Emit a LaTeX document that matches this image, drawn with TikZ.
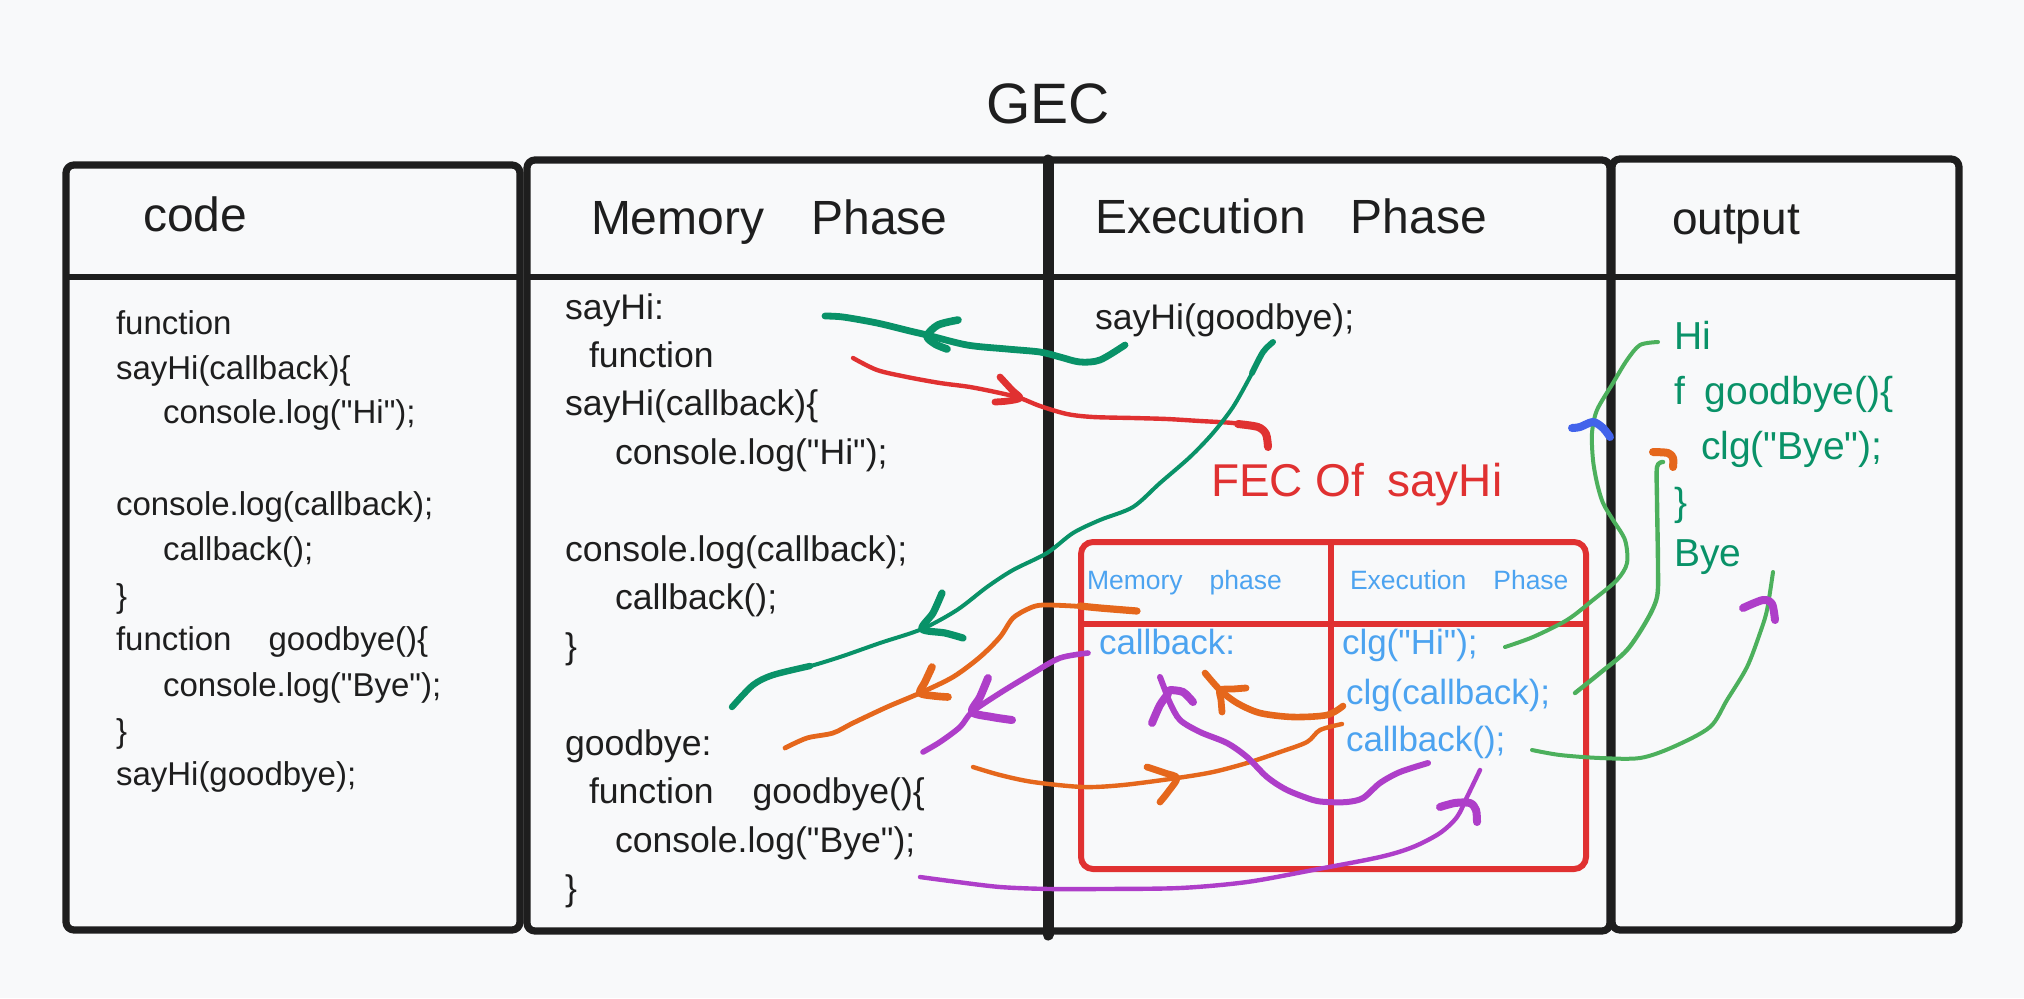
\documentclass[tikz,border=0pt]{standalone}
\usepackage{fontspec}
\setmainfont{Liberation Sans}[Ligatures=TeXOff]
\definecolor{ink}{HTML}{1E1E1E}
\definecolor{bgc}{HTML}{F8F9FA}
\definecolor{tealc}{HTML}{099268}
\definecolor{greenc}{HTML}{4CB05C}
\definecolor{redc}{HTML}{E03131}
\definecolor{orangec}{HTML}{E5671C}
\definecolor{purplec}{HTML}{AE3EC9}
\definecolor{bluec}{HTML}{4CA3F0}
\definecolor{hookblue}{HTML}{4263EB}
\newcommand\myfs[1]{\fontsize{#1}{#1}\selectfont}
\begin{document}
\begin{tikzpicture}[x=0.5pt,y=-0.5pt,
  txt/.style={anchor=base west,inner sep=0pt,outer sep=0pt},
  codet/.style={txt,text=ink,font=\myfs{16.5pt}},
  memt/.style={txt,text=ink,font=\myfs{17.8pt}},
  headt/.style={txt,text=ink,font=\myfs{24pt}},
  fect/.style={txt,text=bluec,font=\myfs{17.5pt}},
  fechead/.style={txt,text=bluec,font=\myfs{13.25pt}},
  outt/.style={txt,text=tealc,font=\myfs{19.5pt}},
  box/.style={draw=ink,line width=3.6pt,rounded corners=4pt,line join=round},
  hline/.style={draw=ink,line width=2.8pt,line cap=round},
  stroke/.style={line cap=round,line join=round},
  tealln/.style={stroke,draw=tealc},
  redln/.style={stroke,draw=redc},
  orln/.style={stroke,draw=orangec},
  puln/.style={stroke,draw=purplec},
  grln/.style={stroke,draw=greenc,line width=2pt},
  hookln/.style={stroke,line width=4pt}]
\fill[bgc] (0,0) rectangle (2024,998);
\useasboundingbox (0,0) rectangle (2024,998);

% title
\node[anchor=base,inner sep=0pt,text=ink,font=\myfs{28.5pt}] (gec) at (1048,123) {GEC};

% frames
\draw[box] (66,165) rectangle (520,930);
\draw[hline] (66,277) -- (520,277);
\draw[box] (527,160) rectangle (1610,931);
\draw[hline] (527,277) -- (1610,277);
\draw[draw=ink,line width=5.5pt,line cap=round] (1048,160) -- (1048,935);
\draw[box] (1612,159) rectangle (1959,930);
\draw[hline] (1612,277) -- (1959,277);

% headers
\node[headt] (hcode) at (143,231) {code};
\node[headt] (hmem) at (591,234) {Memory\hspace{23.5pt}Phase};
\node[headt] (hexe) at (1095,233) {Execution\hspace{22.5pt}Phase};
\node[headt,font=\myfs{23pt}] (hout) at (1672,234) {output};

% code column
\node[codet] (c1) at (116,334) {function};
\node[codet] (c2) at (116,379) {sayHi(callback)\{};
\node[codet] (c3) at (163,423) {console.log("Hi");};
\node[codet] (c4) at (116,515) {console.log(callback);};
\node[codet] (c5) at (163,560) {callback();};
\node[codet] (c6) at (116,607) {\}};
\node[codet] (c7) at (116,650) {function\hspace{18.5pt}goodbye()\{};
\node[codet] (c8) at (163,696) {console.log("Bye");};
\node[codet] (c9) at (116,742) {\}};
\node[codet] (c10) at (116,785) {sayHi(goodbye);};

% memory column
\node[memt] (m1) at (565,319) {sayHi:};
\node[memt] (m2) at (589,367) {function};
\node[memt] (m3) at (565,415) {sayHi(callback)\{};
\node[memt] (m4) at (615,464) {console.log("Hi");};
\node[memt] (m5) at (565,561) {console.log(callback);};
\node[memt] (m6) at (615,609) {callback();};
\node[memt] (m7) at (565,658) {\}};
\node[memt] (m8) at (565,755) {goodbye:};
\node[memt] (m9) at (589,803) {function\hspace{19.5pt}goodbye()\{};
\node[memt] (m10) at (615,852) {console.log("Bye");};
\node[memt] (m11) at (565,900) {\}};

% execution column
\node[memt] (e1) at (1095,329) {sayHi(goodbye);};
\node[txt,text=redc,font=\myfs{23pt}] (fec) at (1211,496) {FEC Of\hspace{11.5pt}sayHi};

% FEC box
\draw[draw=redc,line width=3pt,rounded corners=6pt] (1081,542) rectangle (1586,869);
\draw[draw=redc,line width=3pt] (1081,624) -- (1586,624);
\draw[draw=redc,line width=3pt] (1331,542) -- (1331,869);
\node[fechead] (fm) at (1087,589) {Memory\hspace{13.5pt}phase};
\node[fechead] (fe) at (1350,589) {Execution\hspace{13.5pt}Phase};
\node[fect] (f1) at (1099,654) {callback:};
\node[fect] (f2) at (1342,654) {clg("Hi");};
\node[fect] (f3) at (1346,704) {clg(callback);};
\node[fect] (f4) at (1346,751) {callback();};

% output column
\node[outt] (o1) at (1674,349) {Hi};
\node[outt] (o2) at (1674,404) {f\hspace{10pt}goodbye()\{};
\node[outt] (o3) at (1701,459) {clg("Bye");};
\node[outt] (o4) at (1674,515) {\}};
\node[outt] (o5) at (1674,566) {Bye};

% teal stroke 1 (sayHi(goodbye) -> sayHi:)
\draw[tealln,line width=3.4pt] plot[smooth] coordinates {(825,316) (843,317) (877,323) (910,331) (927,335) (967,345) (1007,349) (1040,352) (1060,357) (1080,362) (1100,360) (1125,345)};
\draw[tealln,line width=3.8pt] plot[smooth] coordinates {(958,320) (938,325) (927,336) (935,344) (947,349)};

% red stroke
\draw[redln,line width=2.2pt] plot[smooth] coordinates {(853,358) (877,370) (907,377) (940,383) (970,387) (1000,393) (1020,398) (1040,406) (1067,414) (1093,417) (1133,418) (1167,419) (1200,421) (1233,423) (1258,427)};
\draw[redln,line width=4pt] plot[smooth] coordinates {(1238,424) (1258,427) (1266,434) (1268,447)};
\draw[redln,line width=3.4pt] plot[smooth] coordinates {(1000,377) (1012,390) (1020,398) (1008,401) (995,402)};

% teal stroke 2 (goodbye arg -> goodbye)
\draw[tealln,line width=2pt] plot[smooth] coordinates {(1273,342) (1263,352) (1250,377) (1233,407) (1213,433) (1190,457) (1160,483) (1133,507) (1100,520) (1073,533) (1047,553) (1013,570) (987,587) (957,610) (922,629) (880,643) (840,657) (807,667) (773,675) (753,685) (732,707)};
\draw[tealln,line width=3pt] plot[smooth] coordinates {(1273,342) (1263,352) (1252,373)};
\draw[tealln,line width=3.2pt] plot[smooth] coordinates {(810,666) (773,675) (753,685) (732,707)};
\draw[tealln,line width=3.6pt] plot[smooth] coordinates {(942,593) (933,613) (922,629) (945,633) (963,638)};

% orange stroke 1
\draw[orln,line width=2.4pt] plot[smooth] coordinates {(1137,611) (1100,608) (1073,606) (1043,605) (1030,608) (1013,618) (1000,637) (980,657) (953,677) (920,693) (887,707) (853,723) (833,733) (807,738) (785,748)};
\draw[orln,line width=3.6pt] plot[smooth] coordinates {(1137,611) (1100,608) (1080,606)};
\draw[orln,line width=3.8pt] plot[smooth] coordinates {(932,667) (925,682) (920,693) (935,696) (948,697)};

% purple stroke 1
\draw[puln,line width=2.8pt] plot[smooth] coordinates {(1088,653) (1060,658) (1033,673) (1000,693) (972,712) (960,727) (940,742) (923,752)};
\draw[puln,line width=4pt] plot[smooth] coordinates {(988,678) (980,697) (972,712) (992,717) (1012,720)};

% orange stroke 2
\draw[orln,line width=2.2pt] plot[smooth] coordinates {(973,767) (1000,775) (1033,782) (1083,787) (1123,785) (1177,778) (1213,772) (1247,763) (1280,752) (1307,742) (1320,730) (1342,724)};
\draw[orln,line width=3.4pt] plot[smooth] coordinates {(1147,767) (1165,773) (1177,778) (1168,792) (1160,802)};

% orange stroke 3
\draw[orln,line width=3.3pt] plot[smooth] coordinates {(1343,706) (1327,715) (1293,717) (1260,713) (1237,703) (1220,690) (1205,673)};
\draw[orln,line width=3.4pt] plot[smooth] coordinates {(1222,712) (1221,700) (1220,690) (1233,689) (1246,688)};

% purple stroke 2
\draw[puln,line width=3pt] plot[smooth] coordinates {(1428,763) (1400,772) (1380,783) (1363,798) (1347,802) (1327,802) (1313,800) (1287,790) (1267,777) (1247,757) (1227,743) (1200,732) (1180,720) (1170,703) (1165,690) (1160,677)};
\draw[puln,line width=4pt] plot[smooth] coordinates {(1152,723) (1160,705) (1168,694)};
\draw[puln,line width=4pt] plot[smooth] coordinates {(1170,690) (1183,692) (1193,702)};

% purple stroke 3
\draw[puln,line width=2.2pt] plot[smooth] coordinates {(920,877) (950,881) (1000,887) (1050,889) (1100,889) (1180,888) (1247,882) (1313,870) (1380,857) (1413,847) (1440,833) (1457,817) (1467,797) (1480,770)};
\draw[puln,line width=4pt] plot[smooth] coordinates {(1440,807) (1455,803) (1470,803) (1476,810) (1477,822)};

% green stroke: clg("Hi") -> Hi
\draw[grln] plot[smooth] coordinates {(1505,647) (1533,637) (1567,620) (1593,600) (1617,580) (1627,563) (1625,540) (1613,520) (1603,503) (1597,483) (1593,460) (1592,433) (1597,410) (1613,383) (1627,360) (1640,345) (1658,342)};
\draw[hookln,draw=hookblue] plot[smooth] coordinates {(1572,428) (1580,427) (1593,422) (1603,428) (1610,437)};

% green stroke: clg(callback) -> clg("Bye")
\draw[grln,line width=2.2pt] plot[smooth] coordinates {(1575,693) (1600,673) (1627,650) (1647,620) (1657,597) (1658,567) (1657,500) (1657,467) (1663,462)};
\draw[hookln,draw=orangec] plot[smooth] coordinates {(1653,452) (1668,453) (1673,458) (1673,467)};

% green stroke: callback() -> Bye
\draw[grln] plot[smooth] coordinates {(1532,750) (1560,755) (1600,758) (1640,758) (1673,747) (1710,727) (1727,700) (1747,667) (1760,633) (1767,610) (1773,572)};
\draw[hookln,draw=purplec] plot[smooth] coordinates {(1743,608) (1763,600) (1772,604) (1775,620)};
\end{tikzpicture}
\end{document}
